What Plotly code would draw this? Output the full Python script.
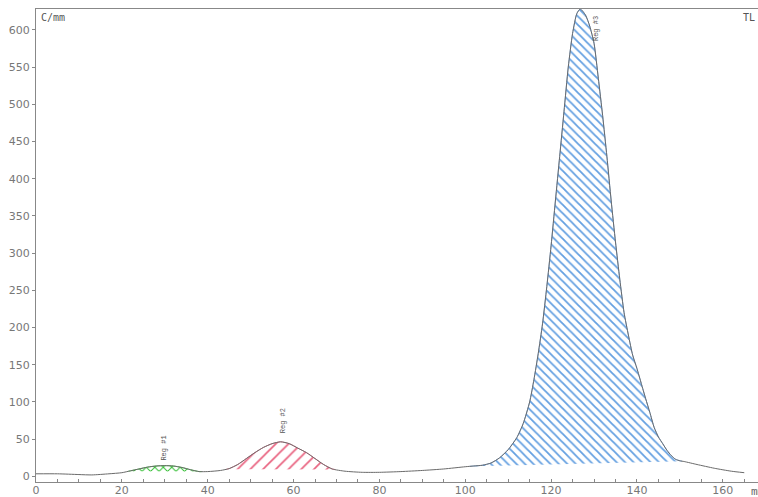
import numpy as np
import plotly.graph_objects as go

# Curve (x in mm, y in C/mm)
curve_x = [0, 5, 10, 13, 17, 20, 22, 24, 26, 28, 30, 32, 34, 36, 38, 40, 43, 45, 47, 49, 51, 53, 55, 57, 59,
           61, 63, 65, 67, 69, 72, 76, 80, 85, 90, 95, 100, 102, 104, 106, 108, 110, 112, 113.5, 115, 116, 117,
           118, 119, 120, 121, 122, 123, 124, 125, 126, 126.8, 128, 129, 130, 131, 132, 133, 134, 135, 136, 137,
           138, 139, 140, 141, 142, 143, 144, 145, 146, 147, 148, 149, 150, 151, 154, 158, 162, 165]
curve_y = [3.5, 3.5, 2.5, 2, 3.5, 5, 7.5, 10, 12.5, 14, 14.5, 14, 12, 9, 6.5, 6.5, 8, 10.5, 16, 24, 32, 39, 44, 46.5, 44,
           38, 32, 24, 16, 10, 7, 5.5, 5.5, 6.5, 8, 10, 13, 14, 15, 18, 25, 36, 52, 71, 100, 130, 165,
           205, 255, 310, 370, 430, 490, 550, 595, 622, 628, 620, 605, 582, 535, 485, 430, 370, 315, 265, 220,
           190, 163, 145, 125, 105, 86, 66, 53, 44, 35, 28, 23, 21, 20, 16, 11, 7, 5]

region_names = ["Reg #1", "Reg #2", "Reg #3"]
region_start = [21.5, 44.4, 101.0]
region_end = [38.6, 69.7, 150.5]
label_x = [29.6, 57.6, 130.3]
label_y = [18, 55, 582]

x_tick_vals = [0, 20, 40, 60, 80, 100, 120, 140, 160]
y_tick_vals = [0, 50, 100, 150, 200, 250, 300, 350, 400, 450, 500, 550, 600]

styles = [
    dict(shape="x", fg="rgb(50,190,50)", size=6, sol=0.3),
    dict(shape="/", fg="rgb(232,95,125)", size=9, sol=0.18),
    dict(shape="\\", fg="rgb(100,160,225)", size=6, sol=0.3),
]

cx = np.array(curve_x, dtype=float)
cy = np.array(curve_y, dtype=float)

fig = go.Figure()

for i in range(3):
    x0, x1 = region_start[i], region_end[i]
    y0, y1 = np.interp(x0, cx, cy), np.interp(x1, cx, cy)
    mask = (cx > x0) & (cx < x1)
    px = [x0] + list(cx[mask]) + [x1]
    py = [y0] + list(cy[mask]) + [y1]
    st = styles[i]
    fig.add_trace(go.Scatter(
        x=px, y=py, mode="lines", fill="toself",
        fillcolor="rgba(255,255,255,0)",
        fillpattern=dict(shape=st["shape"], fgcolor=st["fg"], fgopacity=1, bgcolor="rgba(255,255,255,0)",
                         size=st["size"], solidity=st["sol"]),
        line=dict(color=st["fg"], width=0.8, shape="spline", smoothing=0.6),
        hoverinfo="skip", showlegend=False))

fig.add_trace(go.Scatter(x=curve_x, y=curve_y, mode="lines",
                         line=dict(color="#6a6a6a", width=1, shape="spline", smoothing=0.6),
                         showlegend=False))

for i in range(3):
    fig.add_annotation(x=label_x[i], y=label_y[i], text=region_names[i], textangle=-90,
                       showarrow=False, xanchor="center", yanchor="bottom",
                       font=dict(family="Liberation Mono", size=7, color="#555"))

fig.add_annotation(xref="paper", yref="paper", x=0.004, y=0.997, text="C/mm", showarrow=False,
                   xanchor="left", yanchor="top", font=dict(family="DejaVu Sans Mono", size=10, color="#555"))
fig.add_annotation(xref="paper", yref="paper", x=1.0, xshift=-1, y=0.997, text="TL", showarrow=False,
                   xanchor="right", yanchor="top", font=dict(family="DejaVu Sans Mono", size=10, color="#555"))
fig.add_annotation(xref="paper", yref="paper", x=1.0, xshift=-9, y=0, yshift=-1, text="mm", showarrow=False,
                   xanchor="left", yanchor="top", font=dict(family="DejaVu Sans Mono", size=11, color="#666"))

axis_font = dict(family="DejaVu Sans", size=11, color="#777")
fig.update_xaxes(range=[0, 168.2], tickvals=x_tick_vals, ticks="inside", ticklen=3, tickcolor="#888",
                 showline=True, linecolor="#888", linewidth=1, mirror=True, showgrid=False, zeroline=False,
                 automargin=False, tickfont=axis_font, ticklabelstandoff=-2,
                 minor=dict(dtick=5, tick0=0, ticks="inside", ticklen=3, tickcolor="#888"))
fig.update_yaxes(range=[-7.5, 628], tickvals=y_tick_vals, ticks="outside", ticklen=3, tickcolor="#888",
                 showline=True, linecolor="#888", linewidth=1, showgrid=False, zeroline=False,
                 automargin=False, tickfont=axis_font)

fig.update_layout(width=758, height=497, margin=dict(l=36, r=0, t=9, b=15, autoexpand=False),
                  plot_bgcolor="white", paper_bgcolor="white", showlegend=False)

fig.write_html("out.html", config={"displayModeBar": False},
               post_script="document.body.style.margin='0';document.body.style.overflow='hidden';")
